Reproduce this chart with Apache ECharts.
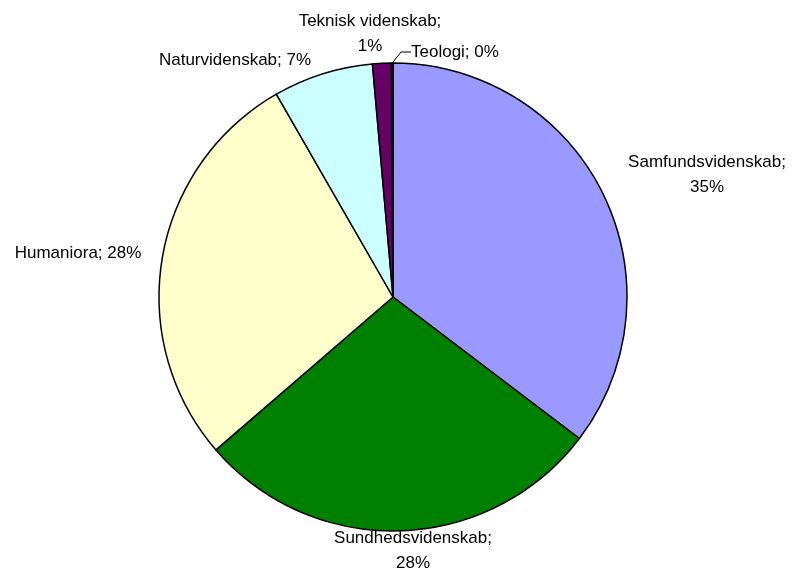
<!DOCTYPE html>
<html>
<head>
<meta charset="utf-8">
<script src="https://cdn.jsdelivr.net/npm/echarts@6/dist/echarts.min.js"></script>
<style>
  html, body { margin: 0; padding: 0; background: #fff; }
  #chart { width: 796px; height: 569px; }
</style>
</head>
<body>
<div id="chart"></div>
<script>
// fields, clockwise from 12 o'clock
var categories = ['Samfundsvidenskab', 'Sundhedsvidenskab', 'Humaniora', 'Naturvidenskab', 'Teknisk videnskab', 'Teologi']
var shares = [35.3, 28.3, 28.0, 6.9, 1.3, 0.1]
var colors = ['#9999FF', '#008000', '#FFFFCC', '#CCFFFF', '#660066', '#FF8080']
// label placement, Excel style
var wrapLabel = [true, true, false, false, true, false]
var labelPos = [
  {x: 707, y: 175, align: 'center'},
  {x: 413, y: 551, align: 'center'},
  {x: 78, y: 253, align: 'center'},
  {x: 235, y: 60, align: 'center'},
  {x: 370, y: 34, align: 'center'},
  {x: 411, y: 52, align: 'left'}
]

var chart = echarts.init(document.getElementById('chart'))

var option = {
  backgroundColor: '#fff',
  animation: false,
  series: [
    {
      type: 'pie',
      center: [393, 297],
      radius: 234,
      startAngle: 90,
      clockwise: true,
      avoidLabelOverlap: false,
      itemStyle: {
        borderColor: '#000',
        borderWidth: 1.5
      },
      label: {
        show: true,
        position: 'outside',
        color: '#000',
        fontFamily: 'Liberation Sans, Arial, sans-serif',
        fontSize: 17,
        lineHeight: 25,
        formatter: function (p) {
          return p.name + ';' + (wrapLabel[p.dataIndex] ? '\n' : ' ') + Math.round(p.percent) + '%'
        }
      },
      labelLine: {show: false},
      labelLayout: function (params) {
        var pos = labelPos[params.dataIndex]
        return {x: pos.x, y: pos.y, align: pos.align, verticalAlign: 'middle'}
      },
      data: categories.map(function (name, i) {
        var item = {name: name, value: shares[i], itemStyle: {color: colors[i]}}
        if (name === 'Teologi') {
          item.labelLine = {show: true, length: 10, length2: 10, lineStyle: {color: '#000', width: 1}}
        }
        return item
      })
    }
  ]
}

chart.setOption(option)
window.addEventListener('resize', function () { chart.resize() })
</script>
</body>
</html>
